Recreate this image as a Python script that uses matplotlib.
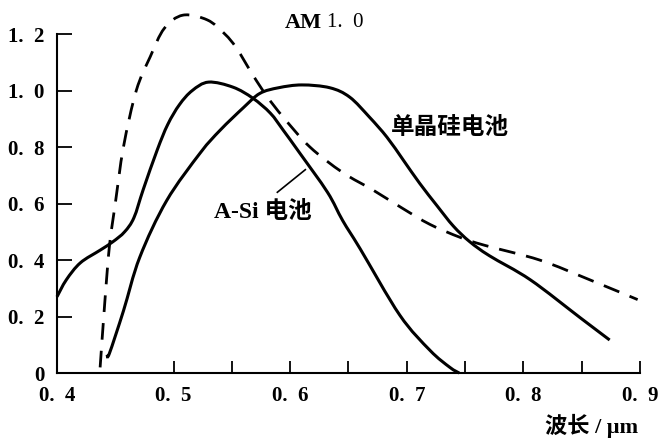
import matplotlib
matplotlib.use("Agg")
import matplotlib.pyplot as plt
from matplotlib.path import Path
from matplotlib.patches import PathPatch

plt.rcParams['font.family'] = ['Liberation Serif', 'Noto Sans CJK SC', 'DejaVu Sans']

# AM 1.0 solar spectrum (dashed)
am_x = [0.437, 0.441, 0.445, 0.450, 0.457, 0.468, 0.480, 0.492, 0.508, 0.529,
        0.544, 0.554, 0.568, 0.580, 0.594, 0.617, 0.645, 0.671, 0.696, 0.720,
        0.746, 0.767, 0.814, 0.857, 0.898]
am_y = [0.02, 0.25, 0.45, 0.60, 0.80, 1.00, 1.12, 1.22, 1.267, 1.25,
        1.20, 1.15, 1.055, 0.98, 0.906, 0.80, 0.71, 0.648, 0.584, 0.526,
        0.48, 0.452, 0.40, 0.33, 0.26]

# A-Si cell
asi_x = [0.400, 0.408, 0.420, 0.437, 0.448, 0.458, 0.466, 0.474, 0.486, 0.495,
         0.505, 0.516, 0.530, 0.551, 0.568, 0.583, 0.594, 0.608, 0.632, 0.645,
         0.660, 0.694, 0.720, 0.737, 0.745]
asi_y = [0.27, 0.33, 0.39, 0.435, 0.465, 0.50, 0.55, 0.65, 0.79, 0.88,
         0.95, 1.00, 1.03, 1.012, 0.973, 0.92, 0.86, 0.78, 0.64, 0.54,
         0.44, 0.205, 0.08, 0.02, 0.00]

# monocrystalline Si cell
si_x = [0.443, 0.445, 0.457, 0.471, 0.494, 0.523, 0.540, 0.560, 0.574, 0.590,
        0.610, 0.634, 0.651, 0.668, 0.683, 0.697, 0.711, 0.726, 0.740, 0.754,
        0.771, 0.806, 0.849, 0.874]
si_y = [0.065, 0.07, 0.22, 0.41, 0.61, 0.78, 0.86, 0.94, 0.99, 1.01,
        1.02, 1.01, 0.977, 0.906, 0.835, 0.754, 0.672, 0.592, 0.52, 0.465,
        0.415, 0.33, 0.195, 0.117]

xticks = [0.4, 0.5, 0.6, 0.7, 0.8, 0.9]
xlabels = ['0.  4', '0.  5', '0.  6', '0.  7', '0.  8', '0.  9']
yticks = [0, 0.2, 0.4, 0.6, 0.8, 1.0, 1.2]
ylabels = ['0', '0.  2', '0.  4', '0.  6', '0.  8', '1.  0', '1.  2']


def smooth_path(xs, ys):
    # Catmull-Rom through the points, drawn as cubic Bezier segments
    pts = list(zip(xs, ys))
    verts = [pts[0]]
    codes = [Path.MOVETO]
    n = len(pts)
    for i in range(n - 1):
        p0 = pts[max(i - 1, 0)]
        p1 = pts[i]
        p2 = pts[i + 1]
        p3 = pts[min(i + 2, n - 1)]
        c1 = (p1[0] + (p2[0] - p0[0]) / 6, p1[1] + (p2[1] - p0[1]) / 6)
        c2 = (p2[0] - (p3[0] - p1[0]) / 6, p2[1] - (p3[1] - p1[1]) / 6)
        verts += [c1, c2, p2]
        codes += [Path.CURVE4] * 3
    return Path(verts, codes)


fig = plt.figure(figsize=(6.58, 4.42), dpi=100)
ax = fig.add_axes([0.0866, 0.156, 0.886, 0.818])

ax.add_patch(PathPatch(smooth_path(am_x, am_y), fill=False, color='black',
                       lw=2.0, ls=(0, (6, 4)), clip_on=False))
ax.add_patch(PathPatch(smooth_path(asi_x, asi_y), fill=False, color='black',
                       lw=2.2, clip_on=False))
ax.add_patch(PathPatch(smooth_path(si_x, si_y), fill=False, color='black',
                       lw=2.2, clip_on=False))

ax.set_xlim(0.4, 0.9)
ax.set_ylim(0, 1.28)
ax.spines['top'].set_visible(False)
ax.spines['right'].set_visible(False)
ax.spines['left'].set_bounds(0, 1.2)
ax.spines['left'].set_linewidth(1.5)
ax.spines['bottom'].set_linewidth(1.5)

ax.set_xticks(xticks)
ax.set_xticklabels(xlabels, fontsize=15, fontweight='bold')
ax.set_xticks([0.55, 0.65, 0.75, 0.85], minor=True)
ax.set_yticks(yticks)
ax.set_yticklabels(ylabels, fontsize=15, fontweight='bold')
ax.tick_params(axis='y', direction='in', length=11, width=1.3, pad=9)
ax.tick_params(axis='x', which='both', direction='in', length=9, width=1.3, pad=9)

ax.text(0.627, 1.24, 'AM', fontsize=16, fontweight='bold', ha='right', va='center')
ax.text(0.632, 1.24, '1.  0', fontsize=15, ha='left', va='center')
ax.text(0.686, 0.867, '单晶硅电池', fontsize=17, fontweight='bold', ha='left', va='center')
ax.text(0.535, 0.57, 'A-Si 电池', fontsize=17, fontweight='bold', ha='left', va='center')
ax.plot([0.589, 0.613], [0.64, 0.72], color='black', lw=1.2)

fig.text(0.970, 0.01, '波长 / μm', fontsize=16, fontweight='bold', ha='right', va='bottom')

fig.savefig('out.png', dpi=100)
